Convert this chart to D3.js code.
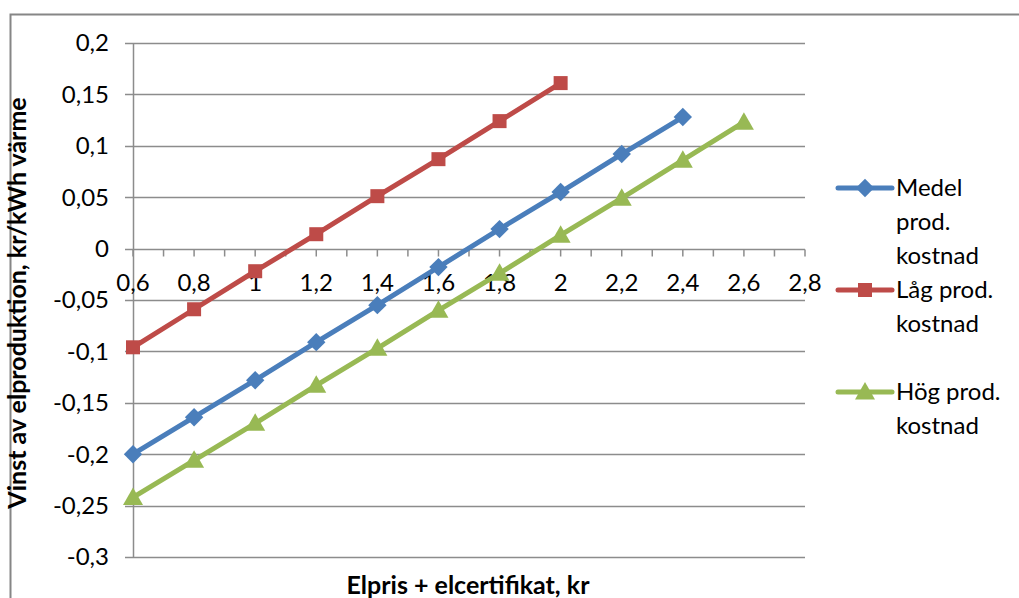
<!DOCTYPE html>
<html><head><meta charset="utf-8">
<script src="https://cdn.jsdelivr.net/npm/d3@7"></script>
<style>body{margin:0;background:#fff}svg{display:block}text{font-family:Lato,"Open Sans",sans-serif}</style>
</head><body><svg id="c" width="1019" height="598"></svg>
<script>
const xMedel=[0.6,0.8,1.0,1.2,1.4,1.6,1.8,2.0,2.2,2.4];
const yMedel=[-0.200,-0.164,-0.128,-0.091,-0.055,-0.018,0.019,0.055,0.092,0.128];
const xLag=[0.6,0.8,1.0,1.2,1.4,1.6,1.8,2.0];
const yLag=[-0.096,-0.059,-0.022,0.014,0.051,0.087,0.124,0.161];
const xHog=[0.6,0.8,1.0,1.2,1.4,1.6,1.8,2.0,2.2,2.4,2.6];
const yHog=[-0.242,-0.206,-0.170,-0.133,-0.097,-0.060,-0.024,0.013,0.049,0.086,0.123];
const xTicks=[0.6,0.8,1.0,1.2,1.4,1.6,1.8,2.0,2.2,2.4,2.6,2.8];
const yTicks=[-0.3,-0.25,-0.2,-0.15,-0.1,-0.05,0,0.05,0.1,0.15,0.2];
const seriesNames=[["Medel","prod.","kostnad"],["Låg prod.","kostnad"],["Hög prod.","kostnad"]];
const colors=["#4a7ebb","#be4b48","#98b954"];

const svg=d3.select("#c");
const fmt=v=>String(+v.toFixed(2)).replace(".",",");
svg.append("rect").attr("x",10.5).attr("y",14.5).attr("width",1030).attr("height",640)
  .attr("fill","none").attr("stroke","#868686").attr("stroke-width",2);

const L=133,R=805,T=43,B=557;
const x=d3.scaleLinear().domain([0.6,2.8]).range([L,R]);
const y=d3.scaleLinear().domain([-0.3,0.2]).range([B,T]);

svg.append("g").selectAll("line").data(yTicks).join("line")
  .attr("x1",L-8).attr("x2",R).attr("y1",d=>Math.round(y(d))+0.5).attr("y2",d=>Math.round(y(d))+0.5)
  .attr("stroke","#8c8c8c").attr("stroke-width",1.5);
svg.append("line").attr("x1",L+0.5).attr("x2",L+0.5).attr("y1",T).attr("y2",B).attr("stroke","#8c8c8c").attr("stroke-width",1.5);
svg.append("g").selectAll("text").data(yTicks).join("text")
  .attr("x",L-24).attr("y",d=>y(d)).attr("dy","0.35em").attr("text-anchor","end")
  .attr("font-size",24).attr("fill","#000").text(fmt);
const y0=Math.round(y(0))+0.5;
const minor=d3.range(0,23).map(i=>0.6+i*0.1);
svg.append("g").selectAll("line").data(minor).join("line")
  .attr("x1",d=>x(d)).attr("x2",d=>x(d)).attr("y1",y0).attr("y2",y0+7)
  .attr("stroke","#8c8c8c").attr("stroke-width",1.5);
svg.append("g").selectAll("text").data(xTicks).join("text")
  .attr("x",d=>x(d)).attr("y",y0+41).attr("text-anchor","middle")
  .attr("font-size",24).attr("fill","#000").text(fmt);

svg.append("text").attr("transform","translate(26,303) rotate(-90)").attr("text-anchor","middle")
  .attr("font-size",25).attr("font-weight","bold").text("Vinst av elproduktion, kr/kWh värme");
svg.append("text").attr("x",468).attr("y",594).attr("text-anchor","middle")
  .attr("font-size",25).attr("font-weight","bold").text("Elpris + elcertifikat, kr");

const marker=(g,i)=>{
  if(i===0) g.append("rect").attr("x",-6.5).attr("y",-6.5).attr("width",13).attr("height",13).attr("transform","rotate(45)").attr("fill",colors[0]);
  else if(i===1) g.append("rect").attr("x",-7).attr("y",-7).attr("width",14).attr("height",14).attr("fill",colors[1]);
  else g.append("path").attr("d","M0,-10L10,7.5L-10,7.5Z").attr("fill",colors[2]);
};

const data=[[xMedel,yMedel],[xLag,yLag],[xHog,yHog]];
const line=d3.line().x(d=>x(d[0])).y(d=>y(d[1]));
data.forEach(([xs,ys],i)=>{
  const pts=xs.map((v,j)=>[v,ys[j]]);
  svg.append("path").datum(pts).attr("d",line).attr("fill","none")
    .attr("stroke",colors[i]).attr("stroke-width",5).attr("stroke-linejoin","round");
  pts.forEach(d=>marker(svg.append("g").attr("transform",`translate(${x(d[0])},${y(d[1])})`),i));
});

const legY=[188,290,392];
seriesNames.forEach((lines,i)=>{
  const g=svg.append("g");
  g.append("line").attr("x1",838).attr("x2",892).attr("y1",legY[i]).attr("y2",legY[i])
    .attr("stroke",colors[i]).attr("stroke-width",5).attr("stroke-linecap","round");
  marker(g.append("g").attr("transform",`translate(865,${legY[i]})`),i);
  lines.forEach((t,k)=>g.append("text").attr("x",896).attr("y",legY[i]+k*34).attr("dy","0.35em")
    .attr("font-size",24).text(t));
});
</script></body></html>
